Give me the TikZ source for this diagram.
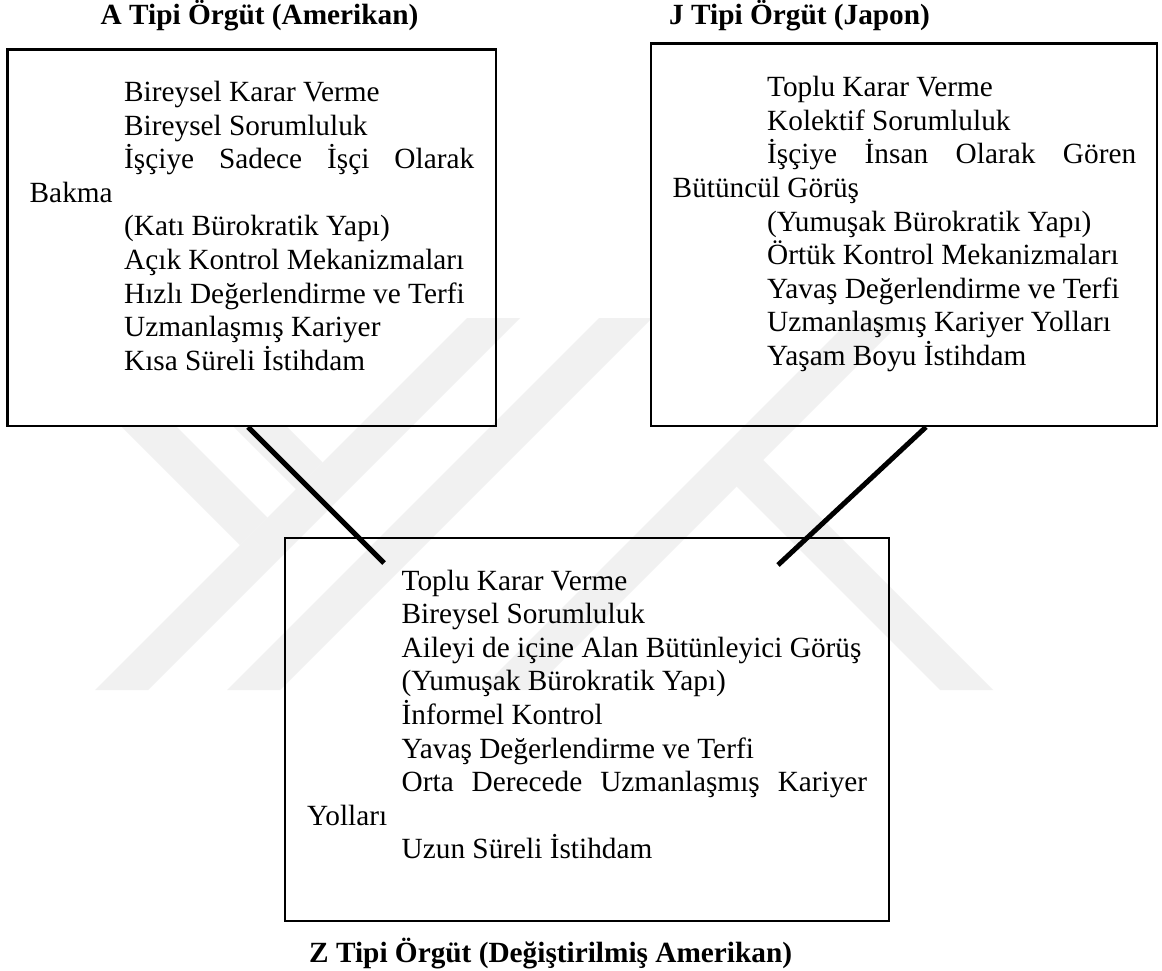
\documentclass[tikz,border=0pt]{standalone}
\usepackage{fontspec}
\setmainfont{Liberation Serif}
\usetikzlibrary{calc}

\definecolor{wmark}{gray}{0.945}

\newlength{\ind}
\setlength{\ind}{94.5pt}
% body text of one frame: width, then the lines
\newcommand{\frametext}[2]{%
  \parbox[t]{#1}{\fontsize{29.3}{33.6}\selectfont\raggedright\noindent #2}}
\newcommand{\itemline}[1]{\hspace*{\ind}\mbox{#1}}

\tikzset{
  frame/.style={draw=black, line width=2.6pt, inner sep=0pt, outer sep=0pt, anchor=north west},
  link/.style={line width=5pt},
  heading/.style={font=\bfseries\fontsize{29.3}{33.6}\selectfont, anchor=base west, inner sep=0pt},
  body/.style={anchor=base west, inner sep=0pt},
  wm/.style={fill=wmark, draw=none}
}

\begin{document}
\begin{tikzpicture}[x=1pt, y=-1pt]
\useasboundingbox (0,0) rectangle (1162,971);
\fill[white] (0,0) rectangle (1162,971);

% faint striped emblem in the background
\fill[wm] (95,690) -- (148,690) -- (520,318) -- (467,318) -- cycle;
\fill[wm] (227,690) -- (280,690) -- (652,318) -- (599,318) -- cycle;
\fill[wm] (480,690) -- (533,690) -- (905,318) -- (852,318) -- cycle;
\fill[wm] (736.5,433.5) -- (993,690) -- (940,690) -- (736.5,486.5) -- cycle;
\fill[wm] (122,427) -- (177,427) -- (267.5,517.5) -- (240,545) -- cycle;
\fill[wm] (234,427) -- (287,427) -- (322.5,462.5) -- (296,489) -- cycle;

% headings
\node[heading] (hA) at (100.5,25) {A Tipi Örgüt (Amerikan)};
\node[heading] (hJ) at (669,25) {J Tipi Örgüt (Japon)};
\node[heading] (hZ) at (309,962) {Z Tipi Örgüt (Değiştirilmiş Amerikan)};

% frames
\node[frame, minimum width=488.5pt, minimum height=376.5pt] (boxA) at (7.5,49.5) {};
\node[frame, minimum width=506pt, minimum height=382.5pt] (boxJ) at (651,43.5) {};
\node[frame, minimum width=604pt, minimum height=383pt] (boxZ) at (285,538) {};

% frame contents
\node[body] (textA) at (29.5,101.5) {\frametext{444.5pt}{%
\itemline{Bireysel Karar Verme}\\
\itemline{Bireysel Sorumluluk}\\
\hspace*{\ind}İşçiye\hfill Sadece\hfill İşçi\hfill Olarak\\
Bakma\\
\itemline{(Katı Bürokratik Yapı)}\\
\itemline{Açık Kontrol Mekanizmaları}\\
\itemline{Hızlı Değerlendirme ve Terfi}\\
\itemline{Uzmanlaşmış Kariyer}\\
\itemline{Kısa Süreli İstihdam}}};

\node[body] (textJ) at (672.5,96.7) {\frametext{463.5pt}{%
\itemline{Toplu Karar Verme}\\
\itemline{Kolektif Sorumluluk}\\
\hspace*{\ind}İşçiye\hfill İnsan\hfill Olarak\hfill Gören\\
Bütüncül Görüş\\
\itemline{(Yumuşak Bürokratik Yapı)}\\
\itemline{Örtük Kontrol Mekanizmaları}\\
\itemline{Yavaş Değerlendirme ve Terfi}\\
\itemline{Uzmanlaşmış Kariyer Yolları}\\
\itemline{Yaşam Boyu İstihdam}}};

\node[body] (textZ) at (307,590) {\frametext{560pt}{%
\itemline{Toplu Karar Verme}\\
\itemline{Bireysel Sorumluluk}\\
\itemline{Aileyi de içine Alan Bütünleyici Görüş}\\
\itemline{(Yumuşak Bürokratik Yapı)}\\
\itemline{İnformel Kontrol}\\
\itemline{Yavaş Değerlendirme ve Terfi}\\
\hspace*{\ind}Orta\hfill Derecede\hfill Uzmanlaşmış\hfill Kariyer\\
Yolları\\
\itemline{Uzun Süreli İstihdam}}};

% connectors
\draw[link] ($(boxA.south west)+(240.5,1)$) -- ($(boxZ.north west)+(99,25)$);
\draw[link] ($(boxJ.south west)+(275,1)$) -- ($(boxZ.north west)+(493,27)$);
\end{tikzpicture}
\end{document}
